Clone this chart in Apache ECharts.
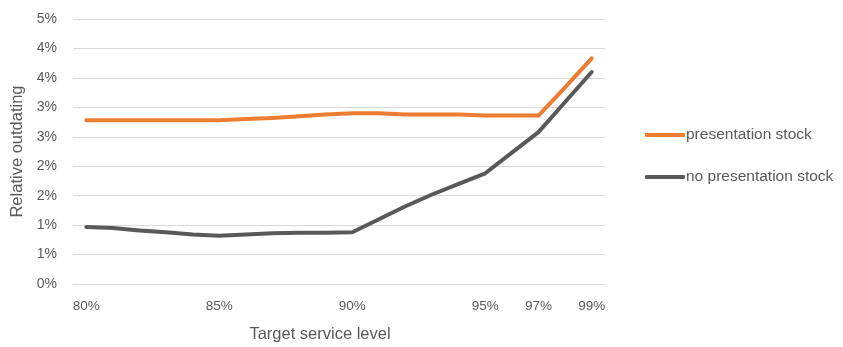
<!DOCTYPE html>
<html>
<head>
<meta charset="utf-8">
<title>Relative outdating by target service level</title>
<script src="https://cdn.jsdelivr.net/npm/echarts@6/dist/echarts.min.js"></script>
<style>
  html, body { margin: 0; padding: 0; background: #fff; }
  #chart { width: 843px; height: 347px; }
</style>
</head>
<body>
<div id="chart"></div>
<script>
// Target service levels (%), one category per percentage point
const serviceLevels = [80, 81, 82, 83, 84, 85, 86, 87, 88, 89, 90, 91, 92, 93, 94, 95, 96, 97, 98, 99];
// Only these service levels get a tick label
const labelledLevels = [80, 85, 90, 95, 97, 99];

// Relative outdating (%) per service level
const withPresentationStock = [2.78, 2.78, 2.78, 2.78, 2.78, 2.78, 2.80, 2.82, 2.85, 2.88, 2.90, 2.90, 2.88, 2.88, 2.88, 2.86, 2.86, 2.86, 3.34, 3.83];
const withoutPresentationStock = [0.97, 0.95, 0.91, 0.88, 0.84, 0.82, 0.84, 0.86, 0.87, 0.87, 0.88, 1.10, 1.32, 1.52, 1.70, 1.88, 2.23, 2.58, 3.09, 3.60];

const seriesNames = ['presentation stock', 'no presentation stock'];
const seriesColors = ['#ED7D31', '#595959'];

const font = '"Liberation Sans", Arial, sans-serif';
const chart = echarts.init(document.getElementById('chart'), null, { renderer: 'canvas' });

chart.setOption({
  animation: false,
  backgroundColor: '#ffffff',
  grid: { left: 73, right: 238, top: 19, bottom: 63, containLabel: false },
  legend: {
    orient: 'vertical',
    left: 640,
    top: 122,
    itemGap: 26,
    itemWidth: 40,
    itemHeight: 4,
    icon: 'roundRect',
    textStyle: { fontFamily: font, fontSize: 15.5, color: '#595959', padding: [0, 0, 0, -4] },
    data: seriesNames
  },
  xAxis: {
    type: 'category',
    boundaryGap: true,
    data: serviceLevels,
    axisLine: { show: true, lineStyle: { color: '#d9d9d9', width: 1 } },
    axisTick: { show: false },
    axisLabel: {
      interval: 0,
      margin: 15,
      fontFamily: font,
      fontSize: 13.5,
      color: '#595959',
      formatter: v => labelledLevels.includes(Number(v)) ? v + '%' : ''
    },
    splitLine: { show: false }
  },
  yAxis: {
    type: 'value',
    min: 0,
    max: 4.5,
    interval: 0.5,
    name: 'Relative outdating',
    nameLocation: 'middle',
    nameGap: 47,
    nameTextStyle: { fontFamily: font, fontSize: 16.5, color: '#595959' },
    axisLine: { show: false },
    axisTick: { show: false },
    axisLabel: {
      margin: 16,
      fontFamily: font,
      fontSize: 14,
      color: '#595959',
      formatter: v => Math.round(v) + '%'
    },
    splitLine: { lineStyle: { color: '#d9d9d9', width: 1 } }
  },
  graphic: [{
    type: 'text',
    x: 320,
    y: 334,
    style: {
      text: 'Target service level',
      fontFamily: font,
      fontSize: 16.5,
      fill: '#595959',
      align: 'center',
      verticalAlign: 'middle'
    }
  }],
  series: [
    {
      name: seriesNames[0],
      type: 'line',
      data: withPresentationStock,
      color: seriesColors[0],
      symbol: 'none',
      lineStyle: { width: 4, color: seriesColors[0], cap: 'round', join: 'round' }
    },
    {
      name: seriesNames[1],
      type: 'line',
      data: withoutPresentationStock,
      color: seriesColors[1],
      symbol: 'none',
      lineStyle: { width: 4, color: seriesColors[1], cap: 'round', join: 'round' }
    }
  ]
});
</script>
</body>
</html>
